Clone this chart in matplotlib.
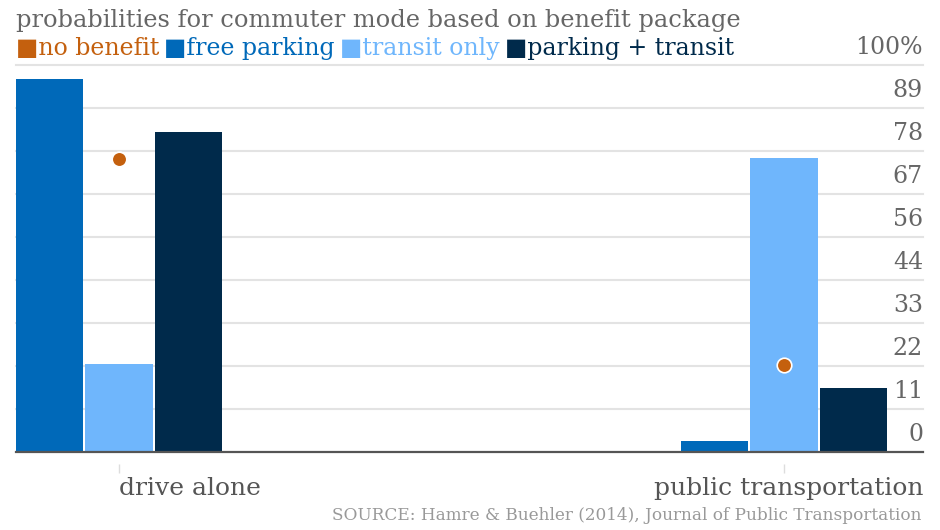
import matplotlib
matplotlib.use("Agg")
import matplotlib.pyplot as plt
import matplotlib.transforms as mtransforms

# ---------- data
categories = ['drive alone', 'public transportation']
no_benefit = [75.7, 22.4]
free_parking = [96.4, 2.9]
transit_only = [22.8, 75.9]
parking_transit = [82.8, 16.5]

series_names = ['no benefit', 'free parking', 'transit only', 'parking + transit']
series_colors = ['#c4600e', '#0069b9', '#6fb6fc', '#002a4b']
tick_labels = ['0', '11', '22', '33', '44', '56', '67', '78', '89', '100%']

FONT = ['DejaVu Serif']

fig = plt.figure(figsize=(9.4, 5.3), dpi=100)
ax = fig.add_axes([16 / 940, 1 - 452 / 530, (923 - 16) / 940, (452 - 65) / 530])

x = list(range(len(categories)))
w = 0.101
off = 0.104
ax.bar([i - off for i in x], free_parking, w, color=series_colors[1], zorder=2)
ax.bar(x, transit_only, w, color=series_colors[2], zorder=2)
ax.bar([i + off for i in x], parking_transit, w, color=series_colors[3], zorder=2)
ax.plot(x, no_benefit, 'o', ms=10.5, color=series_colors[0], mec='white', mew=1.2,
        zorder=4, linestyle='none')

ax.set_xlim(-0.155, 1.209)
ax.set_ylim(0, 100)

# gridlines + right-hand labels sitting above each line
tick_pos = [100 * k / 9 for k in range(len(tick_labels))]
for pos, lab in zip(tick_pos, tick_labels):
    if pos == 0:
        ax.axhline(pos, color='#555555', lw=1.6, zorder=3, clip_on=False)
    else:
        ax.axhline(pos, color='#e3e3e3', lw=1.5, zorder=1, clip_on=False)
    ax.annotate(lab, xy=(1.0, pos), xycoords=ax.get_yaxis_transform(),
                xytext=(0, 4), textcoords='offset points', ha='right',
                va='bottom', fontsize=17, color='#666666', family=FONT)

for s in ax.spines.values():
    s.set_visible(False)
ax.set_xticks([])
ax.set_yticks([])

# category ticks and labels
trans = mtransforms.blended_transform_factory(ax.transData, ax.transAxes)
ax.vlines(x, -0.055, -0.03, transform=trans, color='#dddddd', lw=1, clip_on=False)
ax.text(0, -0.065, categories[0], transform=trans, ha='left', va='top',
        fontsize=18, color='#555555', family=FONT)
ax.text(1.0, -0.065, categories[1], transform=ax.transAxes, ha='right', va='top',
        fontsize=18, color='#555555', family=FONT)

# title and legend
fig.text(16 / 940, 1 - 20 / 530, 'probabilities for commuter mode based on benefit package',
         ha='left', va='center', fontsize=17.4, color='#666666', family=FONT)
xpos = 16 / 940
r = fig.canvas.get_renderer()
for name, col in zip(series_names, series_colors):
    t = fig.text(xpos, 1 - 48 / 530, '\u25a0' + name, ha='left', va='center',
                 fontsize=17, color=col, family=FONT)
    bb = t.get_window_extent(renderer=r)
    xpos += (bb.width + 5) / 940

fig.text(922 / 940, 1 - 516 / 530,
         'SOURCE: Hamre & Buehler (2014), Journal of Public Transportation',
         ha='right', va='center', fontsize=12.2, color='#999999', family=FONT)

fig.savefig('out.png', dpi=100, facecolor='white')
